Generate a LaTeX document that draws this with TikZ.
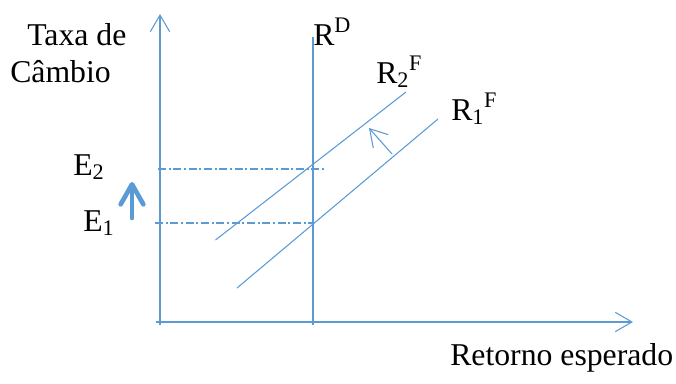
\documentclass[tikz,border=0pt]{standalone}
\usepackage{fontspec}
\setmainfont{Liberation Serif}
\usepackage{xcolor}
\usetikzlibrary{arrows.meta,positioning}
\definecolor{lineblue}{HTML}{5B9BD5}

\begin{document}
\begin{tikzpicture}[
    x=0.75pt, y=-0.75pt,
    curve/.style={draw=lineblue, line width=0.8pt},
    axis/.style={curve, -{Straight Barb[length=12.5pt, width=14.5pt]}},
    guide/.style={draw=lineblue, line width=0.8pt, dash pattern=on 6pt off 2pt on 1.5pt off 2pt},
    moveline/.style={curve, -{Straight Barb[length=12.5pt, width=15pt]}},
    rise/.style={draw=lineblue, line width=3.5pt, line cap=round, -{Straight Barb[length=15pt, width=17pt, line cap=round, round]}},
    label/.style={inner sep=0pt, font=\fontsize{23.8}{28.6}\selectfont}
]
\useasboundingbox (0,0) rectangle (676,383);

% eixos
\coordinate (origin) at (160,322);
\coordinate (ybot) at (160,325);
\coordinate (ytop) at (160,14);
\coordinate (xleft) at (156,322);
\coordinate (xend) at (633,322);
\draw[axis] (ybot) -- (ytop);
\draw[axis] (xleft) -- (xend);

% curvas
\coordinate (rd top) at (313,37);
\coordinate (rd bot) at (313,325);
\draw[curve] (rd top) -- (rd bot);

\coordinate (r2 a) at (215.5,240);
\coordinate (r2 b) at (406,92);
\coordinate (r1 a) at (237,288);
\coordinate (r1 b) at (438,119);
\draw[curve] (r2 a) -- (r2 b);
\draw[curve] (r1 a) -- (r1 b);

% equilibrios
\coordinate (e2 a) at (158,169);
\coordinate (e2 b) at (326,169);
\coordinate (e1 a) at (155,223);
\coordinate (e1 b) at (312,223);
\draw[guide] (e2 a) -- (e2 b);
\draw[guide] (e1 a) -- (e1 b);

% deslocamentos
\coordinate (shift from) at (392,154);
\coordinate (shift to) at (369,128);
\draw[moveline] (shift from) -- (shift to);
\coordinate (rise from) at (132,218);
\coordinate (rise to) at (132,182);
\draw[rise] (rise from) -- (rise to);

% textos
\node[label, anchor=base west] (taxa) at (27,45) {Taxa de};
\node[label, anchor=base west] (cambio) at (10,82) {Câmbio};
\node[label, anchor=base west] (rd) at (313,45) {R\textsuperscript{D}};
\node[label, anchor=base west] (r2) at (376,83) {R\textsubscript{2}\textsuperscript{F}};
\node[label, anchor=base west] (r1) at (451,120) {R\textsubscript{1}\textsuperscript{F}};
\node[label, anchor=base west] (e2) at (73,175) {E\textsubscript{2}};
\node[label, anchor=base west] (e1) at (83,231) {E\textsubscript{1}};
\node[label, anchor=base west] (retorno) at (450,365) {Retorno esperado};
\end{tikzpicture}
\end{document}
